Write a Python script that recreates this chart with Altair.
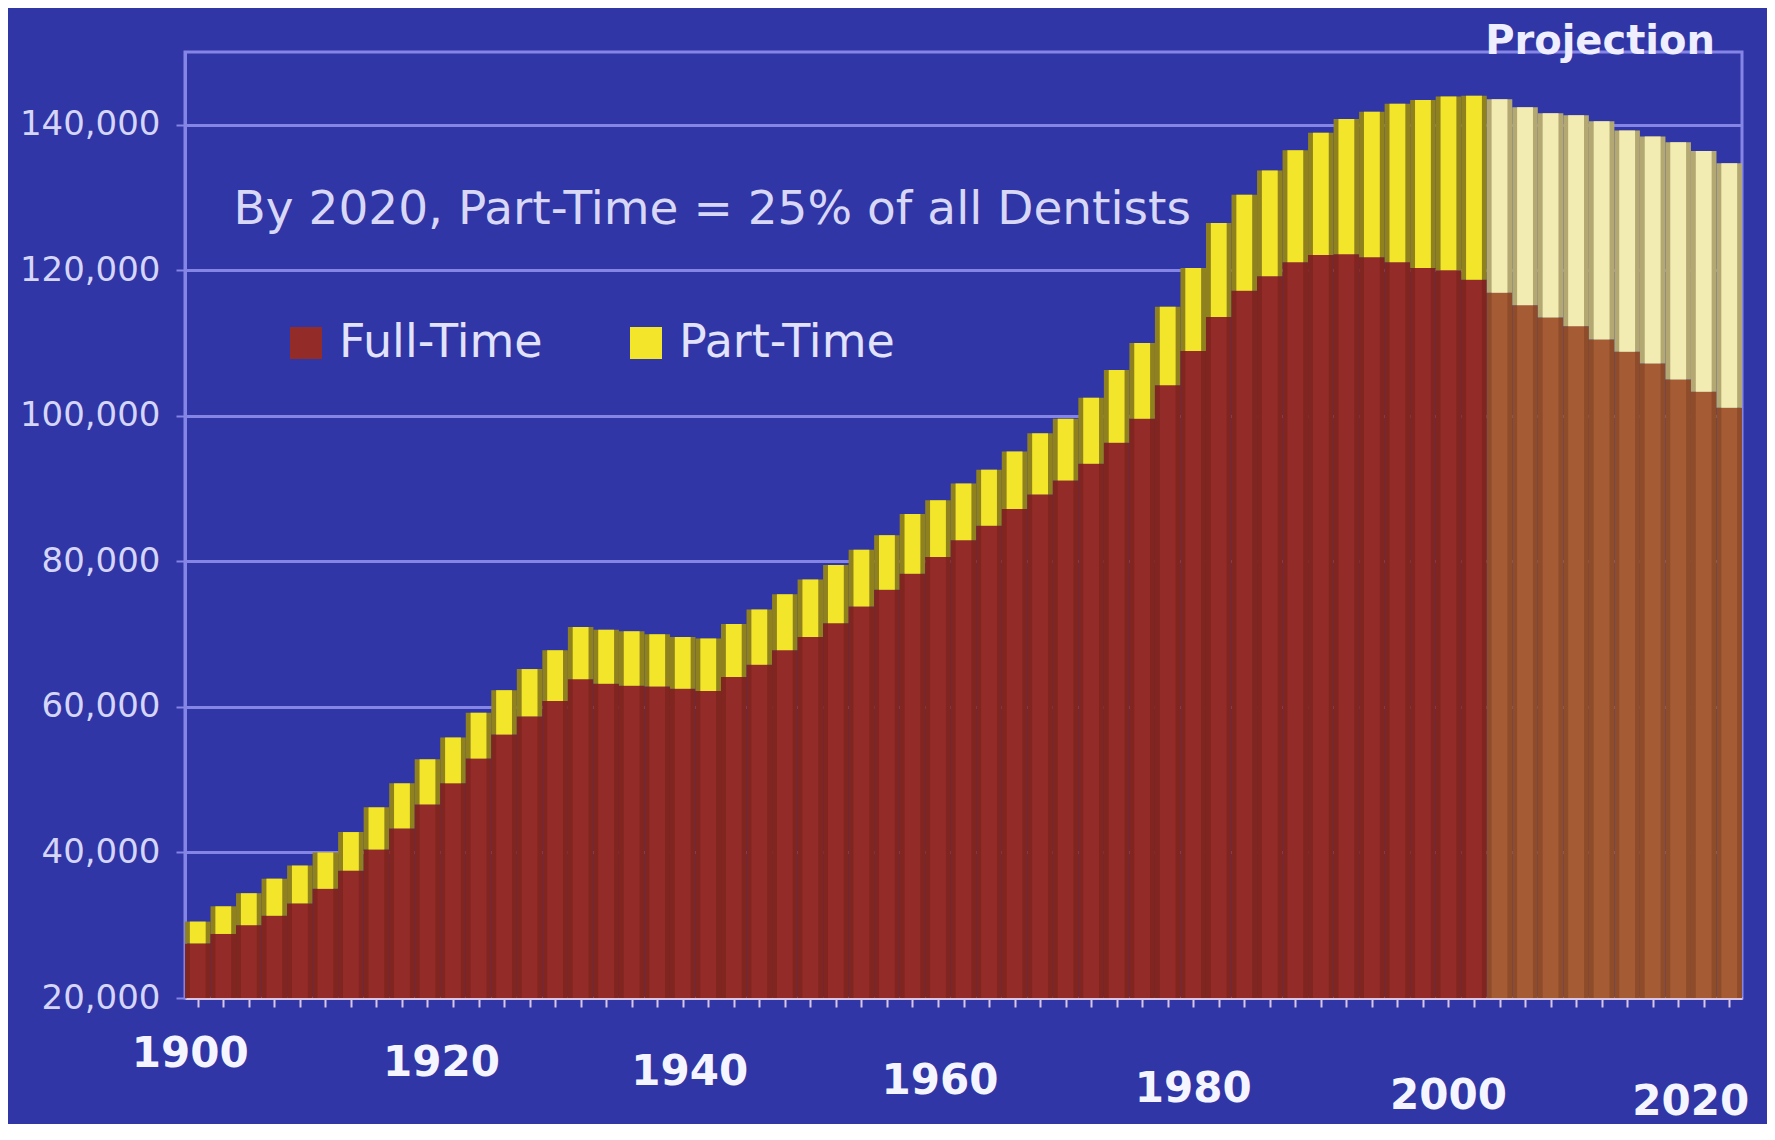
import altair as alt
import pandas as pd

# ---- data (every 2 years, 1900-2020) ----
years = list(range(1900, 2021, 2))
full_time = [27500, 28800, 30000, 31300, 33000, 35000, 37500, 40400, 43300, 46600,
             49500, 52900, 56200, 58700, 60800, 63800, 63200, 62900, 62800, 62500,
             62200, 64100, 65800, 67800, 69600, 71500, 73800, 76100, 78300, 80600,
             82900, 84900, 87200, 89200, 91100, 93400, 96300, 99600, 104200, 108900,
             113600, 117200, 119200, 121100, 122100, 122200, 121800, 121100, 120300, 120000,
             118700, 116900, 115200, 113500, 112300, 110500, 108800, 107200, 105000, 103300, 101100]
part_time = [3000, 3800, 4400, 5100, 5200, 5000, 5300, 5800, 6200, 6200,
             6300, 6300, 6100, 6500, 7000, 7200, 7400, 7500, 7200, 7100,
             7200, 7300, 7600, 7700, 7900, 8000, 7800, 7500, 8200, 7800,
             7800, 7700, 7900, 8400, 8500, 9100, 10000, 10400, 10800, 11400,
             12900, 13200, 14500, 15400, 16800, 18600, 20000, 21800, 23100, 23900,
             25300, 26600, 27200, 28100, 29000, 30000, 30400, 31200, 32600, 33100, 33600]
LAST_ACTUAL_YEAR = 2000
label_years = [1900, 1920, 1940, 1960, 1980, 2000, 2020]
y_ticks = [20000, 40000, 60000, 80000, 100000, 120000, 140000]
series_domain = ["Full-Time", "Part-Time", "Full-Time (projection)", "Part-Time (projection)"]
legend_values = ["Full-Time", "Part-Time"]
NOTE_TEXT = "By 2020, Part-Time = 25% of all Dentists"
NOTE_YEAR = 1902.8
NOTE_VALUE = 128300
TITLE_TEXT = "Projection"

# ---- styles ----
BG = "#3036a6"
GRID = "#8585e6"
front_colors = ["#932b28", "#f3e52a", "#a55b33", "#f2ecb3"]
back_colors = ["#80251f", "#8f821e", "#8e4c2b", "#b3a872"]
label_pad = [26, 35, 44, 53, 61, 68, 74]
label_shift = [-8, -12, -19, -24, -26, -26, -39]

rows = []
for yr, f, p in zip(years, full_time, part_time):
    suffix = " (projection)" if yr > LAST_ACTUAL_YEAR else ""
    rows.append(dict(year=yr, series="Full-Time" + suffix, lo=0, hi=f))
    rows.append(dict(year=yr, series="Part-Time" + suffix, lo=f, hi=f + p))
df = pd.DataFrame(rows)

x_scale = alt.Scale(domain=[1899, 2021], nice=False, zero=False)
y_scale = alt.Scale(domain=[20000, 150000], nice=False, zero=False)

pad_cond = [{"test": f"datum.value == {yv}", "value": v} for yv, v in zip(label_years, label_pad)]
off_cond = [{"test": f"datum.value == {yv}", "value": v} for yv, v in zip(label_years, label_shift)]

x_axis = alt.Axis(
    values=years,
    labelExpr="datum.value % 20 == 0 ? format(datum.value, 'd') : ''",
    labelFont="DejaVu Sans", labelFontWeight="bold", labelFontSize=42,
    labelColor="#f5f5ff", labelFlush=False, labelOverlap=False,
    labelPadding={"condition": pad_cond, "value": 40},
    labelOffset={"condition": off_cond, "value": 0},
    grid=False, domainColor="#d9c6e6", domainWidth=3,
    tickColor="#d9c6e6", tickSize=9, tickWidth=2, title=None,
)
y_axis = alt.Axis(
    values=y_ticks, format=",.0f",
    labelFont="DejaVu Sans", labelFontSize=34, labelColor="#d5d5f7",
    labelPadding=16, grid=True, gridColor=GRID, gridWidth=3,
    domainColor=GRID, domainWidth=3, tickColor=GRID, tickSize=9, tickWidth=2,
    title=None,
)

base = alt.Chart(df)

back = base.transform_calculate(
    x0="datum.year - 1", x1="datum.year + 1"
).mark_bar(clip=True).encode(
    x=alt.X("x0:Q", scale=x_scale, axis=x_axis),
    x2="x1:Q",
    y=alt.Y("hi:Q", scale=y_scale, axis=y_axis),
    y2="lo:Q",
    color=alt.Color("series:N", scale=alt.Scale(domain=series_domain, range=back_colors), legend=None),
)

front = base.transform_calculate(
    x0="datum.year - 0.62", x1="datum.year + 0.62"
).mark_bar(clip=True).encode(
    x=alt.X("x0:Q", scale=x_scale, axis=x_axis),
    x2="x1:Q",
    y=alt.Y("hi:Q", scale=y_scale, axis=y_axis),
    y2="lo:Q",
    color=alt.Color(
        "series:N",
        scale=alt.Scale(domain=series_domain, range=front_colors),
        legend=alt.Legend(
            values=legend_values, orient="none", legendX=98, legendY=268,
            direction="horizontal", title=None, symbolType="square",
            symbolSize=1024, symbolStrokeWidth=0, labelFont="DejaVu Sans",
            labelFontSize=46, labelColor="#e2e2fa", labelOffset=10,
            columnPadding=80, labelLimit=500,
        ),
    ),
)

note = alt.Chart(pd.DataFrame({"year": [NOTE_YEAR], "value": [NOTE_VALUE], "text": [NOTE_TEXT]})).mark_text(
    align="left", baseline="middle", fontSize=47, font="DejaVu Sans", color="#d8d8f6"
).encode(
    x=alt.X("year:Q", scale=x_scale, axis=x_axis),
    y=alt.Y("value:Q", scale=y_scale, axis=y_axis),
    text="text:N",
)

chart = alt.layer(back, front, note).resolve_scale(color="independent").properties(
    width=1557,
    height=946,
    autosize=alt.AutoSizeParams(type="none"),
    padding={"left": 177, "top": 44, "right": 25, "bottom": 126},
    title=alt.TitleParams(
        TITLE_TEXT, anchor="end", frame="group", dx=-27, dy=10, fontSize=40,
        font="DejaVu Sans", fontWeight="bold", color="#eeeeff", offset=0,
    ),
).configure(background=BG).configure_view(stroke=GRID, strokeWidth=3, fill=BG)

chart.save("out.html", embed_options={"renderer": "svg", "actions": False})
